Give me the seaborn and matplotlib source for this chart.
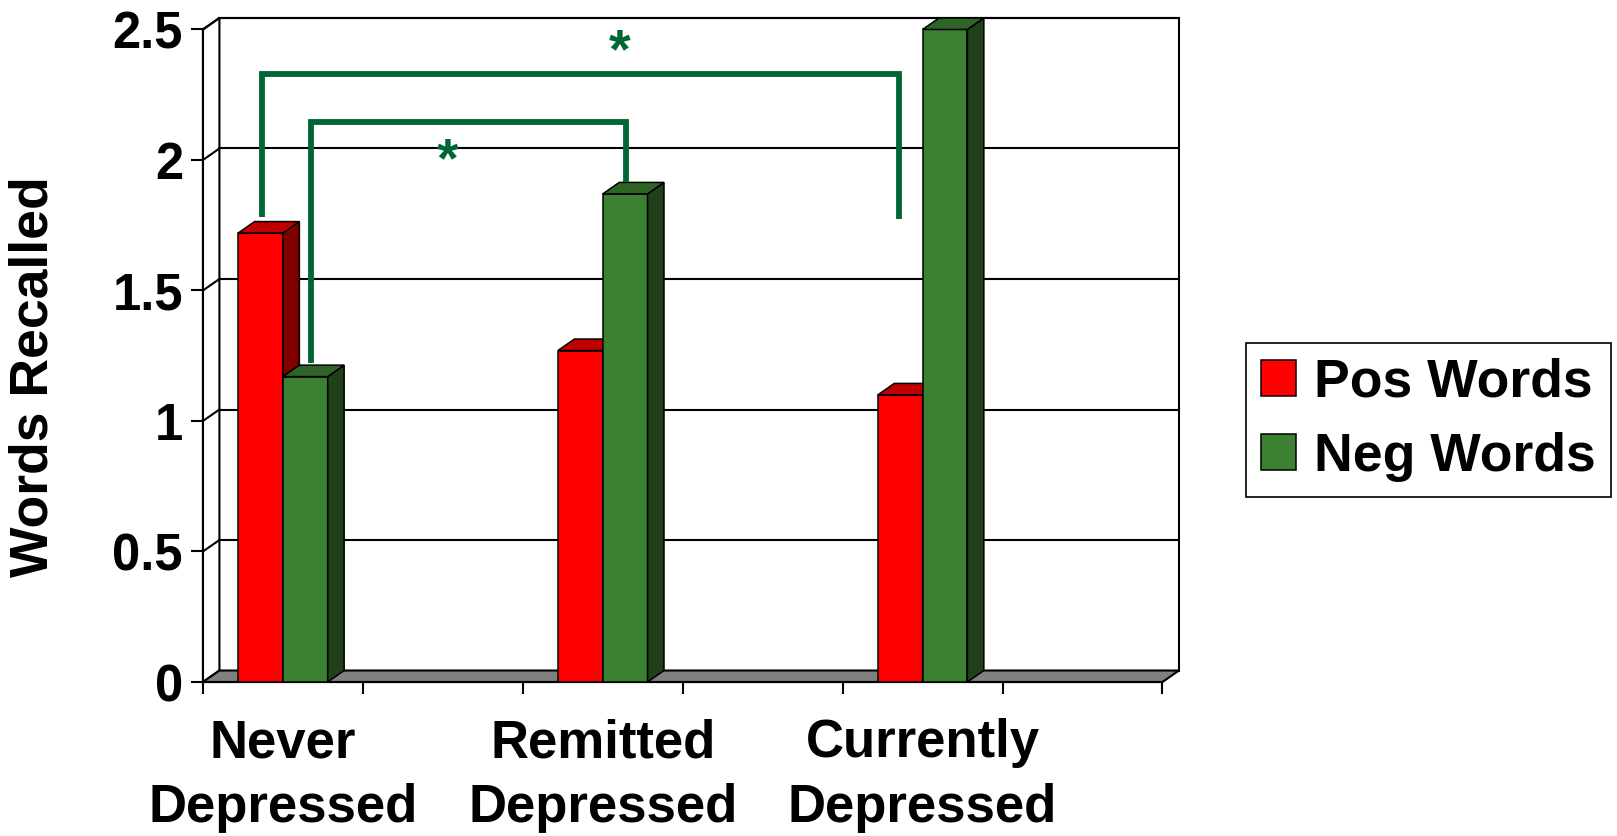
import numpy as np
import pandas as pd
import matplotlib
matplotlib.use("Agg")
import matplotlib.pyplot as plt
from matplotlib.patches import Polygon, Rectangle, Patch
from matplotlib.colors import to_rgb
import seaborn as sns

# --- data -------------------------------------------------------------
groups = ["Never\nDepressed", "Remitted\nDepressed", "Currently\nDepressed"]
series = ["Pos Words", "Neg Words"]
pos_words = [1.72, 1.27, 1.10]
neg_words = [1.17, 1.87, 2.50]
y_ticks = [0, 0.5, 1, 1.5, 2, 2.5]
y_tick_labels = ["0", "0.5", "1", "1.5", "2", "2.5"]

# --- styling ----------------------------------------------------------
front_colors = {"Pos Words": "#FF0000", "Neg Words": "#3B8131"}
side_colors = {"Pos Words": "#800000", "Neg Words": "#1F4019"}
top_colors = {"Pos Words": "#C00000", "Neg Words": "#2E6526"}
sig_color = "#006633"

df = pd.DataFrame({
    "group": groups * 2,
    "series": [series[0]] * len(groups) + [series[1]] * len(groups),
    "value": pos_words + neg_words,
})

# every group is followed by an empty category slot
order = []
for i, g in enumerate(groups):
    order += [g, f"gap{i}"]

sns.set_theme(style="white")
plt.rcParams["font.family"] = ["Liberation Sans", "DejaVu Sans"]
plt.rcParams["font.weight"] = "bold"
plt.rcParams["text.color"] = "black"

fig = plt.figure(figsize=(16.17, 8.36), dpi=100)
ax = fig.add_axes([0.1255, 0.1842, 0.6036, 0.7943])
ax.set_facecolor("none")

# depth offset of the pseudo-3D box (data units)
DX, DY = 0.103, 0.044
n_slots = len(order)
x_lo, x_hi = -0.5, n_slots - 0.5
y_top = y_ticks[-1]

sns.barplot(data=df, x="group", y="value", hue="series", order=order,
            hue_order=series, palette=front_colors, width=0.56,
            saturation=1, edgecolor="black", linewidth=1.1,
            errorbar=None, legend=False, ax=ax)

# side and top faces for each bar
for bar in list(ax.patches):
    fc = to_rgb(bar.get_facecolor())
    name = series[0] if np.allclose(fc, to_rgb(front_colors[series[0]]), atol=0.02) else series[1]
    z = 3 if name == series[0] else 4
    x0, w, h = bar.get_x(), bar.get_width(), bar.get_height()
    x1 = x0 + w
    bar.set_zorder(z)
    ax.add_patch(Polygon([(x1, 0), (x1 + DX, DY), (x1 + DX, h + DY), (x1, h)],
                         closed=True, fc=side_colors[name], ec="black", lw=1.1, zorder=z))
    ax.add_patch(Polygon([(x0, h), (x1, h), (x1 + DX, h + DY), (x0 + DX, h + DY)],
                         closed=True, fc=top_colors[name], ec="black", lw=1.1, zorder=z))

# back wall, side wall, floor
ax.add_patch(Rectangle((x_lo + DX, DY), x_hi - x_lo, y_top, fc="white",
                       ec="black", lw=1.5, zorder=0.5, clip_on=False))
ax.add_patch(Polygon([(x_lo, 0), (x_lo + DX, DY), (x_lo + DX, y_top + DY), (x_lo, y_top)],
                     closed=True, fc="white", ec="black", lw=1.5, zorder=0.6, clip_on=False))
for y in y_ticks[1:]:
    ax.plot([x_lo + DX, x_hi + DX], [y + DY, y + DY], color="black", lw=1.5, zorder=0.7,
            clip_on=False)
    ax.plot([x_lo, x_lo + DX], [y, y + DY], color="black", lw=1.5, zorder=0.7, clip_on=False)
ax.add_patch(Polygon([(x_lo, 0), (x_hi, 0), (x_hi + DX, DY), (x_lo + DX, DY)],
                     closed=True, fc="#808080", ec="black", lw=1.5, zorder=1, clip_on=False))

ax.set_xlim(x_lo, x_hi + DX)
ax.set_ylim(0, y_top + DY)

for side in ["top", "right"]:
    ax.spines[side].set_visible(False)
for side in ["left", "bottom"]:
    ax.spines[side].set_color("black")
    ax.spines[side].set_linewidth(1.5)
    ax.spines[side].set_zorder(2)
ax.spines["left"].set_bounds(0, y_top)
ax.spines["bottom"].set_bounds(x_lo, x_hi)

ax.set_yticks(y_ticks, y_tick_labels)
ax.tick_params(axis="y", left=True, length=8.6, width=1.5, pad=5.8,
               labelsize=36.5, color="black", labelcolor="black")

ax.set_xticks([order.index(g) for g in groups], groups)
ax.set_xticks(np.arange(x_lo, x_hi + 0.01, 1), minor=True)
ax.tick_params(axis="x", which="major", length=0, pad=26, labelsize=38, labelcolor="black")
ax.tick_params(axis="x", which="minor", bottom=True, length=8.6, width=1.5, color="black")
for lbl in ax.get_xticklabels():
    lbl.set_linespacing(1.38)
    lbl.set_fontweight("bold")
for lbl in ax.get_yticklabels():
    lbl.set_fontweight("bold")
ax.set_xlabel("")
ax.set_ylabel("")

fig.text(34 / 1617, 1 - 377 / 836, "Words Recalled", rotation=90, ha="center",
         va="center", fontsize=38.5, fontweight="bold", color="black")

# significance brackets
ax.plot([-0.131, -0.131, 3.852, 3.852], [1.780, 2.328, 2.328, 1.773],
        color=sig_color, lw=4.2, solid_joinstyle="miter", solid_capstyle="butt", zorder=6)
ax.plot([0.176, 0.176, 2.147, 2.147], [1.221, 2.145, 2.145, 1.916],
        color=sig_color, lw=4.2, solid_joinstyle="miter", solid_capstyle="butt", zorder=6)
for sx, sy in [(1.033, 2.056), (2.103, 2.473)]:
    ax.annotate("*", xy=(sx, sy), xytext=(0, -22), textcoords="offset points",
                ha="center", va="baseline", color=sig_color, fontsize=40,
                fontweight="bold", zorder=7, annotation_clip=False)

handles = [Patch(fc=front_colors[s], ec="black", lw=1.1) for s in series]
leg = fig.legend(handles, series, loc="upper left",
                 bbox_to_anchor=(1246 / 1617, 1 - 343 / 836), frameon=True,
                 fancybox=False, shadow=False, prop={"size": 38.5, "weight": "bold"},
                 labelcolor="black",
                 handlelength=0.66, handleheight=0.66, handletextpad=0.33,
                 labelspacing=0.45, borderpad=0.28, borderaxespad=0)
leg.get_frame().set_edgecolor("black")
leg.get_frame().set_linewidth(1.2)
leg.get_frame().set_alpha(1)

fig.savefig("out.png", dpi=100, facecolor="white")
